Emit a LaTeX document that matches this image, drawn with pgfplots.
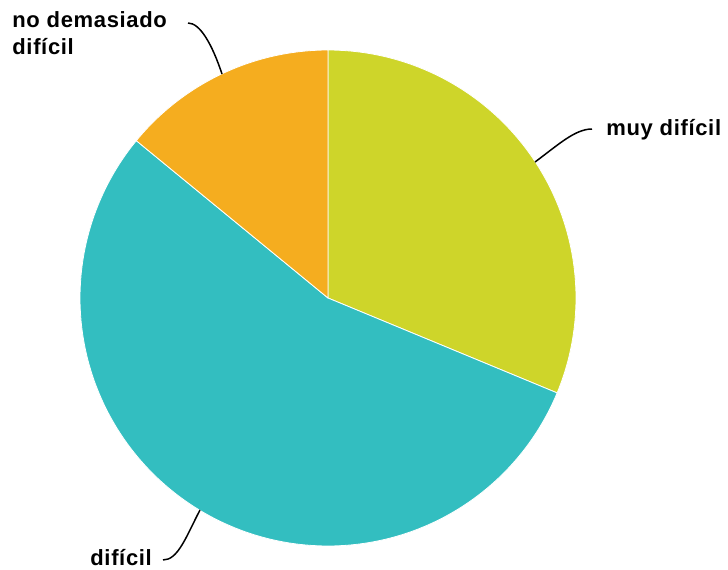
\documentclass[border=0pt]{standalone}
\usepackage{pgfplots}
\pgfplotsset{compat=1.18}
\usepackage{fontspec}
\setmainfont{Liberation Sans}
\newfontfamily\lab[LetterSpace=3]{Liberation Sans}
\definecolor{cA}{HTML}{CED52A}
\definecolor{cB}{HTML}{33BEC0}
\definecolor{cC}{HTML}{F5AD1F}
% values: muy difícil, difícil, no demasiado difícil
\def\vA{20}
\def\vB{35}
\def\vC{9}
\pgfmathsetmacro\tot{\vA+\vB+\vC}
\pgfmathsetmacro\aA{90}
\pgfmathsetmacro\aB{90-360*\vA/\tot}
\pgfmathsetmacro\aC{\aB-360*\vB/\tot}
\pgfmathsetmacro\aD{\aC-360*\vC/\tot}
\begin{document}
\begin{tikzpicture}
\begin{axis}[scale only axis, width=364pt, height=284.5pt,
  xmin=0, xmax=728, ymin=0, ymax=569, hide axis, clip=false]
\addplot[fill=cA, draw=white, line width=0.4pt, domain=\aB:\aA, samples=90, variable=\t]
  ({328+248*cos(\t)},{271+248*sin(\t)}) -- (axis cs:328,271) -- cycle;
\addplot[fill=cB, draw=white, line width=0.4pt, domain=\aC:\aB, samples=150, variable=\t]
  ({328+248*cos(\t)},{271+248*sin(\t)}) -- (axis cs:328,271) -- cycle;
\addplot[fill=cC, draw=white, line width=0.4pt, domain=\aD:\aC, samples=50, variable=\t]
  ({328+248*cos(\t)},{271+248*sin(\t)}) -- (axis cs:328,271) -- cycle;
\draw[draw=none] (axis cs:0,0) rectangle (axis cs:728,569);
\draw[line width=0.75pt] (axis cs:535,407) .. controls (axis cs:558,424) and (axis cs:575,440) .. (axis cs:592,440);
\draw[line width=0.75pt] (axis cs:222,495) .. controls (axis cs:212,525) and (axis cs:200,546) .. (axis cs:188,546);
\draw[line width=0.75pt] (axis cs:200,59) .. controls (axis cs:186,32) and (axis cs:178,9) .. (axis cs:163,9);
\node[anchor=base west, inner sep=0pt, font=\lab\fontsize{11pt}{13pt}\selectfont\bfseries] at (axis cs:606,434) {muy difícil};
\node[anchor=base west, inner sep=0pt, font=\lab\fontsize{11pt}{13pt}\selectfont\bfseries] at (axis cs:12,541) {no demasiado};
\node[anchor=base west, inner sep=0pt, font=\lab\fontsize{11pt}{13pt}\selectfont\bfseries] at (axis cs:12,514) {difícil};
\node[anchor=base west, inner sep=0pt, font=\lab\fontsize{11pt}{13pt}\selectfont\bfseries] at (axis cs:90,4) {difícil};
\end{axis}
\end{tikzpicture}
\end{document}
